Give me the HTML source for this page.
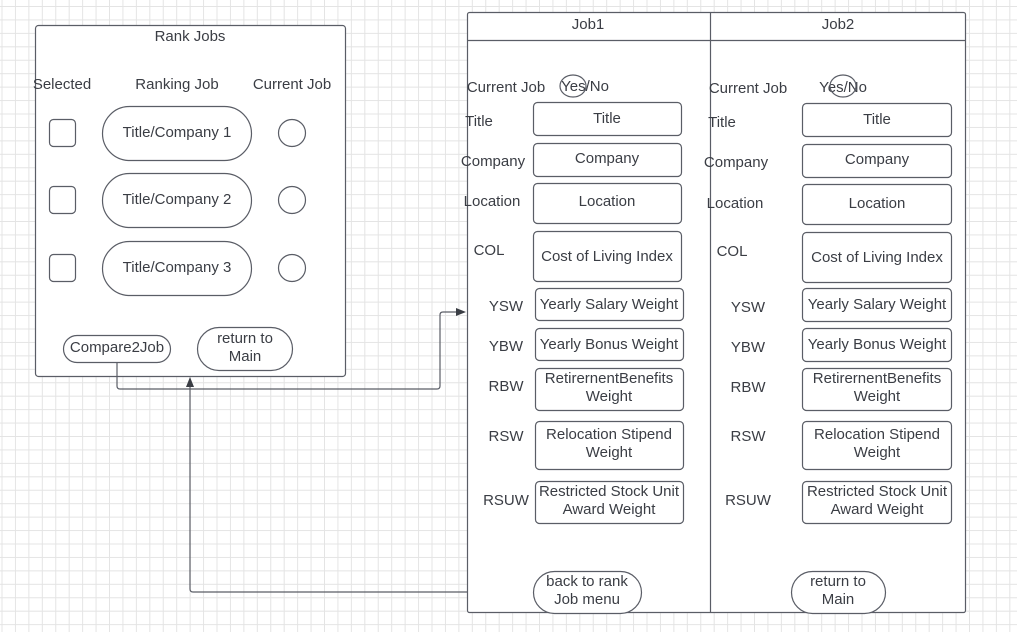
<!DOCTYPE html>
<html><head><style>
html,body{margin:0;padding:0;}
body{width:1017px;height:632px;overflow:hidden;background-color:#fff;
background-image:linear-gradient(to right,#e4e4e4 1px,transparent 1px),linear-gradient(to bottom,#e4e4e4 1px,transparent 1px);
background-size:13.45px 13.45px;background-position:1.5px 6px;}
svg{position:absolute;left:0;top:0;}
text{font-family:"Liberation Sans",sans-serif;font-size:15px;fill:#3a3d44;text-anchor:middle;}
.b{fill:#fff;stroke:#5a5d66;stroke-width:1.2;}
.l{fill:none;stroke:#5a5d66;stroke-width:1.2;}
</style></head><body>
<svg width="1017" height="632">
<!-- Rank Jobs -->
<rect class="b" x="35.5" y="25.5" width="310" height="351" rx="3"/>
<text x="190" y="41">Rank Jobs</text>
<text x="62" y="89">Selected</text>
<text x="177" y="89">Ranking Job</text>
<text x="292" y="89">Current Job</text>
<rect class="b" x="49.5" y="119.5" width="26" height="27" rx="4"/>
<rect class="b" x="49.5" y="186.5" width="26" height="27" rx="4"/>
<rect class="b" x="49.5" y="254.5" width="26" height="27" rx="4"/>
<rect class="b" x="102.5" y="106.5" width="149" height="54" rx="27"/>
<rect class="b" x="102.5" y="173.5" width="149" height="54" rx="27"/>
<rect class="b" x="102.5" y="241.5" width="149" height="54" rx="27"/>
<text x="177" y="137">Title/Company 1</text>
<text x="177" y="204">Title/Company 2</text>
<text x="177" y="272">Title/Company 3</text>
<circle class="b" cx="292" cy="133" r="13.5"/>
<circle class="b" cx="292" cy="200" r="13.5"/>
<circle class="b" cx="292" cy="268" r="13.5"/>
<rect class="b" x="63.5" y="335.5" width="107" height="27" rx="13.5"/>
<text x="117" y="352">Compare2Job</text>
<rect class="b" x="197.5" y="327.5" width="95" height="43" rx="21.5"/>
<text x="245" y="343">return to</text>
<text x="245" y="361">Main</text>
<!-- connectors -->
<path class="l" d="M117 362 V386 Q117 389 120 389 H437 Q440 389 440 386 V315 Q440 312 443 312 H458"/>
<polygon points="466,312 456,308 456,316" fill="#3a3d44"/>
<path class="l" d="M533 592 H193 Q190 592 190 589 V385"/>
<polygon points="190,377 186,387 194,387" fill="#3a3d44"/>
<!-- Job panel -->
<rect class="b" x="467.5" y="12.5" width="498" height="600" rx="2"/>
<line class="l" x1="467" y1="40.5" x2="966" y2="40.5"/>
<line class="l" x1="710.5" y1="12" x2="710.5" y2="613"/>
<text x="588" y="29">Job1</text>
<text x="838" y="29">Job2</text>
<!-- job1 -->
<text x="506" y="92">Current Job</text>
<text x="585" y="91">Yes/No</text>
<ellipse cx="573" cy="86" rx="13" ry="11" class="l"/>
<text x="479" y="126">Title</text>
<text x="493" y="166">Company</text>
<text x="492" y="206">Location</text>
<text x="489" y="255">COL</text>
<text x="506" y="311">YSW</text>
<text x="506" y="351">YBW</text>
<text x="506" y="391">RBW</text>
<text x="506" y="441">RSW</text>
<text x="506" y="505">RSUW</text>
<rect class="b" x="533.5" y="102.5" width="148" height="33" rx="4"/><text x="607" y="123">Title</text>
<rect class="b" x="533.5" y="143.5" width="148" height="33" rx="4"/><text x="607" y="163">Company</text>
<rect class="b" x="533.5" y="183.5" width="148" height="40" rx="4"/><text x="607" y="206">Location</text>
<rect class="b" x="533.5" y="231.5" width="148" height="50" rx="4"/><text x="607" y="261">Cost of Living Index</text>
<rect class="b" x="535.5" y="288.5" width="148" height="32" rx="4"/><text x="609" y="309">Yearly Salary Weight</text>
<rect class="b" x="535.5" y="328.5" width="148" height="32" rx="4"/><text x="609" y="349">Yearly Bonus Weight</text>
<rect class="b" x="535.5" y="368.5" width="148" height="42" rx="4"/><text x="609" y="383">RetirernentBenefits</text><text x="609" y="401">Weight</text>
<rect class="b" x="535.5" y="421.5" width="148" height="48" rx="4"/><text x="609" y="439">Relocation Stipend</text><text x="609" y="457">Weight</text>
<rect class="b" x="535.5" y="481.5" width="148" height="42" rx="4"/><text x="609" y="496">Restricted Stock Unit</text><text x="609" y="514">Award Weight</text>
<rect class="b" x="533.5" y="571.5" width="108" height="42" rx="21"/><text x="587" y="586">back to rank</text><text x="587" y="604">Job menu</text>
<!-- job2 -->
<text x="748" y="93">Current Job</text>
<text x="843" y="92">Yes/No</text>
<ellipse cx="843" cy="86" rx="13" ry="11" class="l"/>
<text x="722" y="127">Title</text>
<text x="736" y="167">Company</text>
<text x="735" y="208">Location</text>
<text x="732" y="256">COL</text>
<text x="748" y="312">YSW</text>
<text x="748" y="352">YBW</text>
<text x="748" y="392">RBW</text>
<text x="748" y="441">RSW</text>
<text x="748" y="505">RSUW</text>
<rect class="b" x="802.5" y="103.5" width="149" height="33" rx="4"/><text x="877" y="124">Title</text>
<rect class="b" x="802.5" y="144.5" width="149" height="33" rx="4"/><text x="877" y="164">Company</text>
<rect class="b" x="802.5" y="184.5" width="149" height="40" rx="4"/><text x="877" y="208">Location</text>
<rect class="b" x="802.5" y="232.5" width="149" height="50" rx="4"/><text x="877" y="262">Cost of Living Index</text>
<rect class="b" x="802.5" y="288.5" width="149" height="33" rx="4"/><text x="877" y="309">Yearly Salary Weight</text>
<rect class="b" x="802.5" y="328.5" width="149" height="33" rx="4"/><text x="877" y="349">Yearly Bonus Weight</text>
<rect class="b" x="802.5" y="368.5" width="149" height="42" rx="4"/><text x="877" y="383">RetirernentBenefits</text><text x="877" y="401">Weight</text>
<rect class="b" x="802.5" y="421.5" width="149" height="48" rx="4"/><text x="877" y="439">Relocation Stipend</text><text x="877" y="457">Weight</text>
<rect class="b" x="802.5" y="481.5" width="149" height="42" rx="4"/><text x="877" y="496">Restricted Stock Unit</text><text x="877" y="514">Award Weight</text>
<rect class="b" x="791.5" y="571.5" width="94" height="42" rx="21"/><text x="838" y="586">return to</text><text x="838" y="604">Main</text>
</svg>
</body></html>
